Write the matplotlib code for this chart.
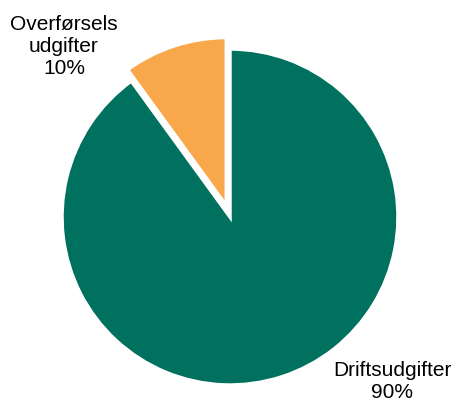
import matplotlib
matplotlib.use('Agg')
import matplotlib.pyplot as plt

# data
labels = ['Driftsudgifter', 'Overførsels\nudgifter']
values = [90, 10]
colors = ['#00715F', '#F9A74B']

plt.rcParams['font.family'] = ['Liberation Sans', 'DejaVu Sans']

fig = plt.figure(figsize=(4.56, 4.05), dpi=100)
ax = fig.add_axes([0, 0, 1, 1])

# explode is in data units here (pixels)
ax.pie(values, colors=colors, explode=[0, 12], startangle=90, counterclock=False,
       center=(230, 188), radius=168, frame=True,
       wedgeprops=dict(edgecolor='white', linewidth=2.5))
ax.set_xlim(0, 456)
ax.set_ylim(0, 405)
ax.axis('off')

# labels
ax.text(392, 24, f'{labels[0]}\n{values[0]}%', ha='center', va='center',
        fontsize=15, linespacing=1.2)
ax.text(64, 358, f'{labels[1]}\n{values[1]}%', ha='center', va='center',
        fontsize=15, linespacing=1.2)

fig.savefig('out.png', dpi=100)
